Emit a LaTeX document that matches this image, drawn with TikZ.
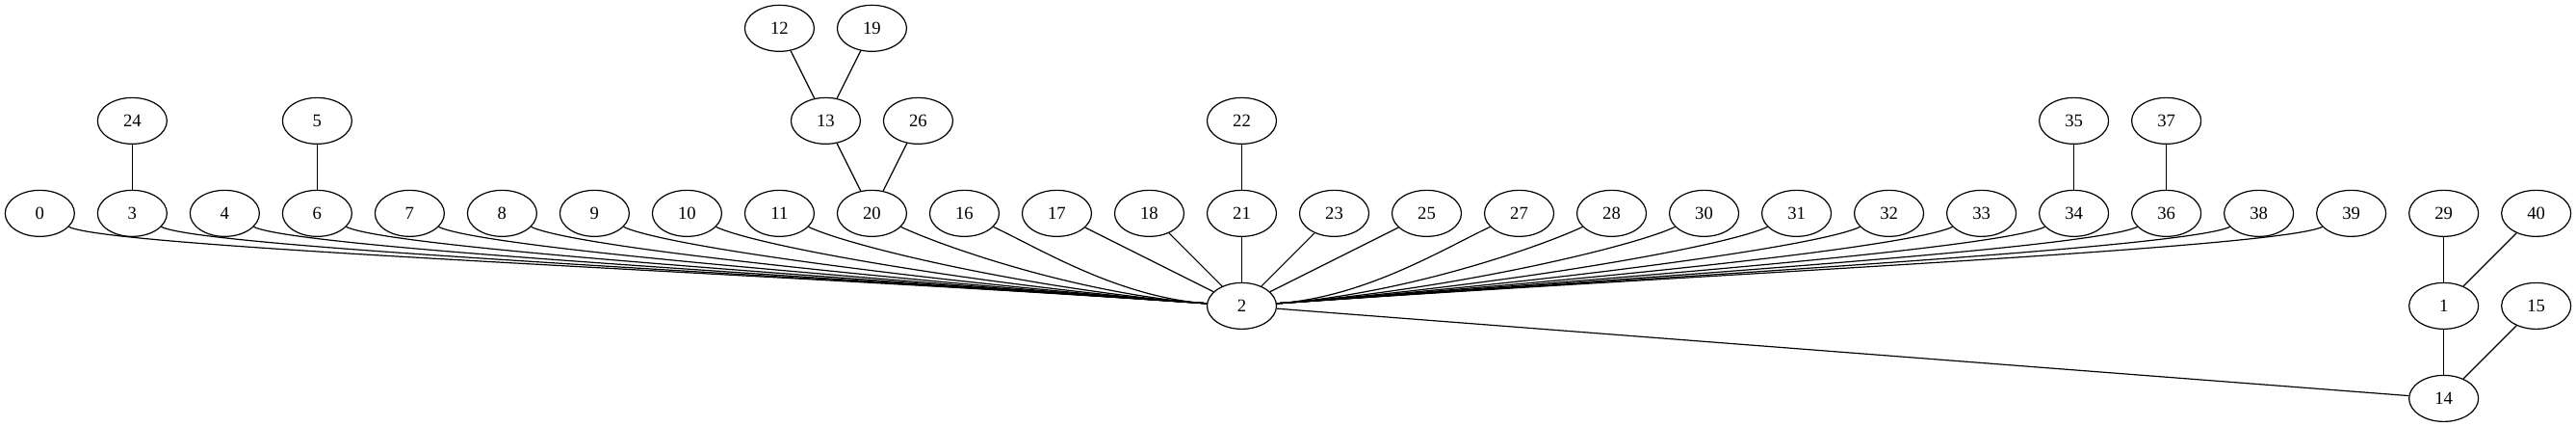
\documentclass[tikz,border=0pt]{standalone}
\usepackage{fontspec}
\setmainfont{Liberation Serif}
\usetikzlibrary{shapes.geometric}

\begin{document}
\begin{tikzpicture}[x=1pt, y=1pt,
  vtx/.style={draw, line width=0.9pt, ellipse, minimum width=54pt, minimum height=36pt, inner sep=0pt, font=\fontsize{14}{16}\selectfont},
  tedge/.style={line width=0.9pt},
  fanl/.style={tedge, out=-25, in=176, out distance=40pt},
  fanr/.style={tedge, out=-155, in=4, out distance=40pt}]
% Set the page size
\useasboundingbox (0, 0) rectangle (2006, -332);

% Top rows
\node[vtx] (n12) at (607, -22) {12};
\node[vtx] (n19) at (679, -22) {19};
\node[vtx] (n24) at (103, -94) {24};
\node[vtx] (n5) at (247, -94) {5};
\node[vtx] (n13) at (643, -94) {13};
\node[vtx] (n26) at (715, -94) {26};
\node[vtx] (n22) at (967, -94) {22};
\node[vtx] (n35) at (1615, -94) {35};
\node[vtx] (n37) at (1687, -94) {37};

% Middle row
\node[vtx] (n0) at (31, -166) {0};
\node[vtx] (n3) at (103, -166) {3};
\node[vtx] (n4) at (175, -166) {4};
\node[vtx] (n6) at (247, -166) {6};
\node[vtx] (n7) at (319, -166) {7};
\node[vtx] (n8) at (391, -166) {8};
\node[vtx] (n9) at (463, -166) {9};
\node[vtx] (n10) at (535, -166) {10};
\node[vtx] (n11) at (607, -166) {11};
\node[vtx] (n20) at (679, -166) {20};
\node[vtx] (n16) at (751, -166) {16};
\node[vtx] (n17) at (823, -166) {17};
\node[vtx] (n18) at (895, -166) {18};
\node[vtx] (n21) at (967, -166) {21};
\node[vtx] (n23) at (1039, -166) {23};
\node[vtx] (n25) at (1111, -166) {25};
\node[vtx] (n27) at (1183, -166) {27};
\node[vtx] (n28) at (1255, -166) {28};
\node[vtx] (n30) at (1327, -166) {30};
\node[vtx] (n31) at (1399, -166) {31};
\node[vtx] (n32) at (1471, -166) {32};
\node[vtx] (n33) at (1543, -166) {33};
\node[vtx] (n34) at (1615, -166) {34};
\node[vtx] (n36) at (1687, -166) {36};
\node[vtx] (n38) at (1759, -166) {38};
\node[vtx] (n39) at (1831, -166) {39};
\node[vtx] (n29) at (1903, -166) {29};
\node[vtx] (n40) at (1975, -166) {40};

% Bottom rows
\node[vtx] (n2) at (967, -238) {2};
\node[vtx] (n1) at (1903, -238) {1};
\node[vtx] (n15) at (1975, -238) {15};
\node[vtx] (n14) at (1903, -310) {14};

% Short edges
\draw[tedge] (n24) -- (n3);
\draw[tedge] (n5) -- (n6);
\draw[tedge] (n12) -- (n13);
\draw[tedge] (n19) -- (n13);
\draw[tedge] (n13) -- (n20);
\draw[tedge] (n26) -- (n20);
\draw[tedge] (n22) -- (n21);
\draw[tedge] (n35) -- (n34);
\draw[tedge] (n37) -- (n36);
\draw[tedge] (n29) -- (n1);
\draw[tedge] (n40) -- (n1);
\draw[tedge] (n1) -- (n14);
\draw[tedge] (n15) -- (n14);
\draw[tedge] (n2) -- (n14);
\draw[tedge] (n17) -- (n2);
\draw[tedge] (n18) -- (n2);
\draw[tedge] (n21) -- (n2);
\draw[tedge] (n23) -- (n2);
\draw[tedge] (n25) -- (n2);

% Fan into node 2 from the left
\draw[fanl] (n0) to (n2);
\draw[fanl] (n3) to (n2);
\draw[fanl] (n4) to (n2);
\draw[fanl] (n6) to (n2);
\draw[fanl] (n7) to (n2);
\draw[fanl] (n8) to (n2);
\draw[fanl] (n9) to (n2);
\draw[fanl] (n10) to (n2);
\draw[fanl] (n11) to (n2);
\draw[fanl] (n20) to (n2);
\draw[fanl] (n16) to (n2);

% Fan into node 2 from the right
\draw[fanr] (n27) to (n2);
\draw[fanr] (n28) to (n2);
\draw[fanr] (n30) to (n2);
\draw[fanr] (n31) to (n2);
\draw[fanr] (n32) to (n2);
\draw[fanr] (n33) to (n2);
\draw[fanr] (n34) to (n2);
\draw[fanr] (n36) to (n2);
\draw[fanr] (n38) to (n2);
\draw[fanr] (n39) to (n2);
\end{tikzpicture}
\end{document}
